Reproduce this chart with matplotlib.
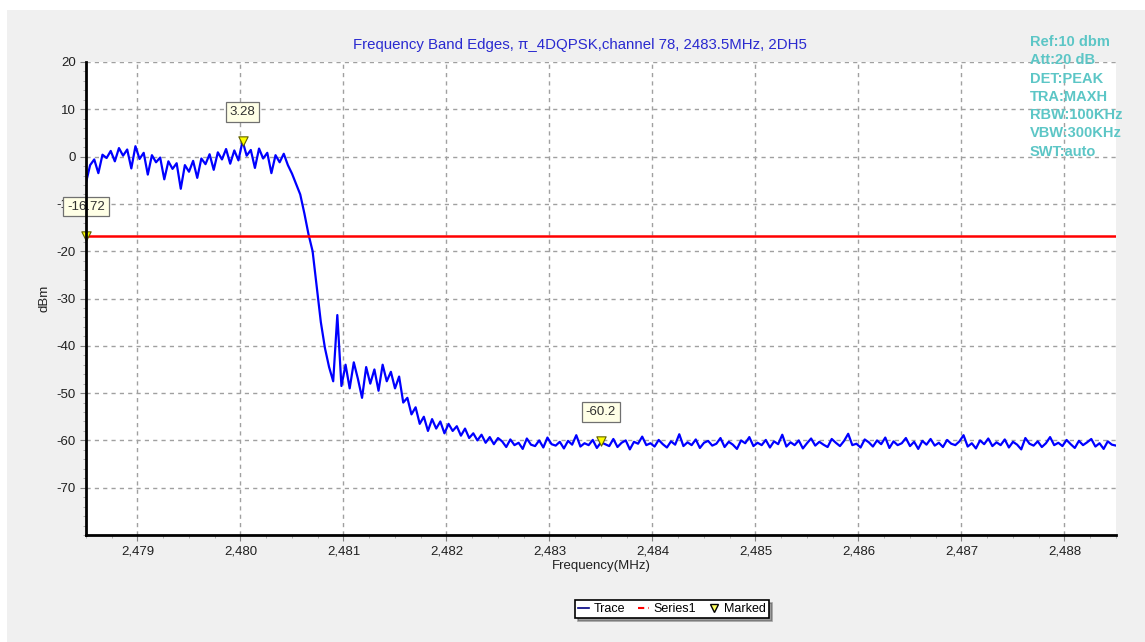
import numpy as np
import matplotlib
matplotlib.use("Agg")
import matplotlib.pyplot as plt
from matplotlib.lines import Line2D
from matplotlib.patches import Rectangle
from matplotlib.ticker import FuncFormatter, MultipleLocator

plt.rcParams['font.family'] = ['Liberation Sans', 'DejaVu Sans']
plt.rcParams['axes.unicode_minus'] = False

# ---------------- data ----------------
freq_start = 2478.5
freq_stop = 2488.5

trace_dbm = [
    # 2478.50 - 2480.46 (in-band plateau)
    -5.5, -1.8, -0.6, -3.5, 0.4, -0.3, 1.2, -1.0, 1.8, 0.2,
    1.5, -2.5, 2.2, -0.5, 0.8, -3.8, 0.3, -1.2, -0.2, -4.8,
    -1.0, -2.6, -1.4, -6.8, -1.8, -3.2, -0.9, -4.5, -0.4, -1.6,
    0.5, -2.8, 0.9, -0.6, 1.6, -1.5, 1.3, -0.8, 3.28, 0.2,
    1.4, -2.4, 1.7, -0.4, 0.8, -3.5, 0.3, -1.2, 0.6, -1.8,
    # 2480.50 - 2482.50 (band edge roll-off)
    -3.6, -5.8, -8.0, -12.0, -16.4, -20.0, -27.5, -35.0, -40.5, -44.5,
    -47.5, -33.5, -48.5, -44.0, -49.0, -43.5, -47.0, -51.0, -44.5, -48.0,
    -45.0, -49.5, -44.0, -47.5, -45.5, -49.0, -46.5, -52.0, -51.0, -54.5,
    -53.0, -56.5, -55.0, -58.0, -55.5, -57.5, -56.0, -58.5, -56.5, -58.0,
    -57.0, -59.0, -57.5, -59.5, -58.5, -60.0, -58.8, -60.5, -59.3, -60.8,
    -59.5,
    # 2482.54 - 2488.50 (noise floor)
    -60.2, -61.4, -59.8, -61.0, -60.5, -61.8, -59.6, -60.9, -61.2, -60.0,
    -61.5, -59.4, -60.8, -61.1, -60.3, -61.7, -60.1, -60.9, -58.9, -61.3,
    -60.6, -61.0, -59.9, -61.6, -60.4, -60.8, -61.2, -59.7, -61.4, -60.5,
    -60.0, -61.9, -60.3, -60.7, -59.2, -61.0, -60.6, -61.3, -59.9, -60.8,
    -61.5, -60.2, -60.9, -58.7, -61.2, -60.4, -61.0, -59.8, -61.6, -60.5,
    -60.1, -61.1, -60.7, -59.5, -61.4, -60.3, -60.9, -61.8, -60.0, -60.6,
    -59.3, -61.2, -60.5, -61.0, -59.9, -61.5, -60.2, -60.8, -58.8, -61.3,
    -60.4, -61.0, -60.0, -61.7, -60.6, -59.6, -61.1, -60.3, -60.9, -61.4,
    -59.7, -60.5, -61.2, -60.1, -58.6, -61.0, -60.7, -61.5, -59.8, -60.4,
    -61.3, -60.0, -60.8, -59.4, -61.6, -60.2, -61.0, -60.6, -59.5, -61.2,
    -60.3, -61.8, -60.1, -60.9, -59.7, -61.1, -60.5, -61.4, -59.9, -60.7,
    -61.0, -60.2, -58.9, -61.3, -60.6, -61.7, -60.0, -60.8, -59.6, -61.2,
    -60.4, -61.0, -59.8, -61.5, -60.3, -60.9, -61.9, -59.5, -60.7, -61.1,
    -60.2, -61.4, -60.6, -59.3, -61.0, -60.5, -61.2, -59.9, -60.8, -61.6,
    -60.1, -61.0, -60.4, -59.7, -61.3, -60.6, -61.8, -60.2, -60.9, -61.1,
]
trace_freq = np.linspace(freq_start, freq_stop, len(trace_dbm))

limit_dbm = -16.72
marker_freq = [2478.5, 2480.02, 2483.5]
marker_dbm = [-16.72, 3.28, -60.2]
marker_text = ["-16.72", "3.28", "-60.2"]

y_ticks = [20, 10, 0, -10, -20, -30, -40, -50, -60, -70]
x_ticks = [2479, 2480, 2481, 2482, 2483, 2484, 2485, 2486, 2487, 2488]

title = "Frequency Band Edges, \u03c0_4DQPSK,channel 78, 2483.5MHz, 2DH5"
info_lines = ["Ref:10 dbm", "Att:20 dB", "DET:PEAK", "TRA:MAXH",
              "RBW:100KHz", "VBW:300KHz", "SWT:auto"]

# ---------------- figure ----------------
W, H = 1145, 642
fig = plt.figure(figsize=(W / 100, H / 100), dpi=100, facecolor='white')
fig.patches.append(Rectangle((7 / W, 0), 1 - 7 / W, 1 - 10 / H,
                             transform=fig.transFigure, facecolor='#f0f0f0',
                             edgecolor='none', zorder=-10))

ax = fig.add_axes([86 / W, (H - 535) / H, (1116 - 86) / W, (535 - 62) / H])
ax.set_facecolor('white')

ax.plot(trace_freq, trace_dbm, color='#0000ff', lw=1.6, zorder=3)
ax.axhline(limit_dbm, color='#ff0000', lw=1.8, zorder=4)

ax.scatter(marker_freq, marker_dbm, marker='v', s=45, facecolor='#ffff00',
           edgecolor='#606000', linewidths=0.8, zorder=6, clip_on=False)
for fx, fy, t in zip(marker_freq, marker_dbm, marker_text):
    ax.annotate(t, (fx, fy), xytext=(0, 21), textcoords='offset points',
                ha='center', va='center', fontsize=9.5, color='#303030',
                bbox=dict(boxstyle='square,pad=0.3', facecolor='#ffffe6',
                          edgecolor='#707070', lw=0.9), zorder=7,
                annotation_clip=False)

ax.set_xlim(freq_start, freq_stop)
ax.set_ylim(-80, 20)
ax.set_xticks(x_ticks)
ax.set_yticks(y_ticks)
ax.xaxis.set_minor_locator(MultipleLocator(0.25))
ax.yaxis.set_minor_locator(MultipleLocator(2))
ax.xaxis.set_major_formatter(FuncFormatter(lambda v, p: f"{v:,.0f}"))
ax.tick_params(axis='both', which='major', labelsize=9.5, length=4,
               color='#808080', labelcolor='#202020')
ax.tick_params(axis='both', which='minor', length=2, color='#a0a0a0')
ax.grid(True, which='major', color='#a0a0a0', linestyle=(0, (3, 3)), lw=1)

for s in ['top', 'right']:
    ax.spines[s].set_visible(False)
for s in ['left', 'bottom']:
    ax.spines[s].set_linewidth(2)
    ax.spines[s].set_color('black')
    ax.spines[s].set_zorder(8)

ax.set_xlabel("Frequency(MHz)", fontsize=9.5, color='#202020', labelpad=2)
ax.set_ylabel("dBm", fontsize=9.5, color='#202020', labelpad=4)

fig.text(580 / W, 1 - 45 / H, title, ha='center', va='center',
         fontsize=10.8, color='#2a2ad0')

for i, line in enumerate(info_lines):
    fig.text(1030 / W, 1 - (42 + i * 18.3) / H, line, ha='left', va='center',
             fontsize=10.5, fontweight='bold', color='#5cc6c6')

handles = [
    Line2D([], [], color='#000080', lw=1.2),
    Line2D([], [], color='#ff0000', lw=1.5, linestyle=(0, (3, 2, 1, 2))),
    Line2D([], [], marker='v', color='none', markerfacecolor='#ffff60',
           markeredgecolor='#000000', markersize=6),
]
leg = fig.legend(handles, ["Trace", "Series1", "Marked"], ncol=3,
                 loc='center', bbox_to_anchor=(672 / W, 1 - 609 / H),
                 fontsize=9, frameon=True, fancybox=False, shadow=True,
                 edgecolor='black', handlelength=0.9, handletextpad=0.35,
                 columnspacing=1.0, borderpad=0.25, markerscale=1.0)
leg.get_frame().set_linewidth(1.2)

fig.savefig("out.png", dpi=100, facecolor=fig.get_facecolor())
